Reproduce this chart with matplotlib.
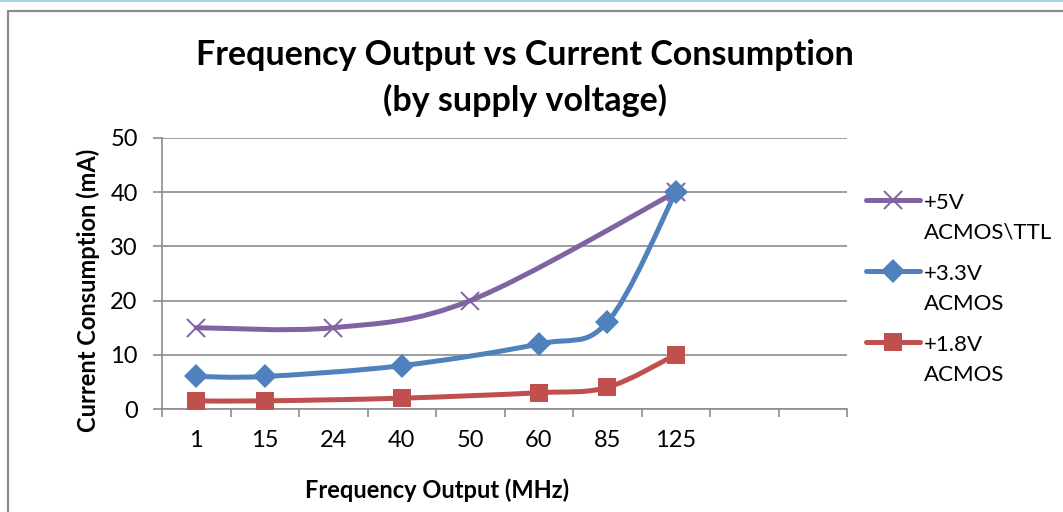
import matplotlib
matplotlib.use("Agg")
import matplotlib.pyplot as plt
import numpy as np
from matplotlib.path import Path
from matplotlib.patches import PathPatch, Rectangle
from matplotlib.lines import Line2D

plt.rcParams['font.family'] = ['Lato', 'DejaVu Sans']

categories = ["1", "15", "24", "40", "50", "60", "85", "125", "", ""]
v5 = [15, None, 15, None, 20, None, None, 40, None, None]
v33 = [6, 6, None, 8, None, 12, 16, 40, None, None]
v18 = [1.5, 1.5, None, 2, None, 3, 4, 10, None, None]
series_names = ["+5V\nACMOS\\TTL", "+3.3V\nACMOS", "+1.8V\nACMOS"]
yticks = [0, 10, 20, 30, 40, 50]

colors = ["#8064A2", "#4F81BD", "#C0504D"]
markers = ["x", "D", "s"]
msizes = [13, 12, 13]

W, H = 1063, 512
fig = plt.figure(figsize=(W / 100, H / 100), dpi=100)
fig.patch.set_facecolor("white")

# slide background band and chart border
fig.add_artist(Rectangle((0, 1 - 2 / H), 1, 2 / H, transform=fig.transFigure,
                         facecolor="#A5D5E2", edgecolor="none"))
fig.add_artist(Line2D([8 / W, 8 / W, 1], [0, 1 - 11 / H, 1 - 11 / H],
                      transform=fig.transFigure, color="#8C8C8C", lw=1.6))

ax = fig.add_axes([162 / W, 1 - 409 / H, (847 - 162) / W, (409 - 138) / H])
ax.set_xlim(-0.5, len(categories) - 0.5)
ax.set_ylim(0, 50)


def smooth_path(xs, ys):
    pts = np.array([(x, y) for x, y in zip(xs, ys) if y is not None], float)
    verts = [tuple(pts[0])]
    codes = [Path.MOVETO]
    n = len(pts)
    for i in range(n - 1):
        p0 = pts[max(i - 1, 0)]
        p1 = pts[i]
        p2 = pts[i + 1]
        p3 = pts[min(i + 2, n - 1)]
        c1 = p1 + (p2 - p0) / 6.0
        c2 = p2 - (p3 - p1) / 6.0
        verts += [tuple(c1), tuple(c2), tuple(p2)]
        codes += [Path.CURVE4] * 3
    return Path(verts, codes), pts


xs = np.arange(len(categories))
for vals, c, m, ms, z in zip([v5, v33, v18], colors, markers, msizes, [3, 4, 5]):
    path, pts = smooth_path(xs, vals)
    ax.add_patch(PathPatch(path, facecolor="none", edgecolor=c, lw=3.6,
                           capstyle="round", joinstyle="round", zorder=z))
    ax.plot(pts[:, 0], pts[:, 1], ls="none", marker=m, ms=ms,
            mew=1.4 if m == "x" else 0, color=c, zorder=z + 0.5, clip_on=False)

# axes styling
ax.set_yticks(yticks)
ax.set_yticklabels([str(t) for t in yticks], fontsize=17)
ax.yaxis.grid(True, color="#8C8C8C", lw=1.2)
ax.set_axisbelow(True)
ax.set_xticks(xs)
ax.set_xticklabels(categories, fontsize=17)
ax.set_xticks(np.arange(-0.5, len(categories)), minor=True)
ax.tick_params(axis="x", which="major", length=0, pad=15)
ax.tick_params(axis="x", which="minor", length=6, width=1.2, color="#8C8C8C")
ax.tick_params(axis="y", length=6.5, width=1.2, color="#8C8C8C", pad=11)
for s in ["top", "right"]:
    ax.spines[s].set_visible(False)
for s in ["left", "bottom"]:
    ax.spines[s].set_color("#8C8C8C")
    ax.spines[s].set_linewidth(1.2)

# titles and labels
fig.text(525 / W, 1 - 55 / H, "Frequency Output vs Current Consumption",
         ha="center", va="center", fontsize=24.5, fontweight="bold")
fig.text(525 / W, 1 - 100 / H, "(by supply voltage)",
         ha="center", va="center", fontsize=24.5, fontweight="bold")
fig.text(88 / W, 1 - 290 / H, "Current Consumption (mA)", rotation=90,
         ha="center", va="center", fontsize=17, fontweight="bold")
fig.text(437 / W, 1 - 490 / H, "Frequency Output (MHz)",
         ha="center", va="center", fontsize=17, fontweight="bold")

# legend (manual)
leg_y = [200, 271, 342]
for name, c, m, ms, ly in zip(series_names, colors, markers, msizes, leg_y):
    yf = 1 - ly / H
    fig.add_artist(Line2D([866 / W, 920 / W], [yf, yf], transform=fig.transFigure,
                          color=c, lw=3.6, solid_capstyle="round"))
    fig.add_artist(Line2D([893 / W], [yf], transform=fig.transFigure,
                          ls="none", marker=m, ms=ms, color=c,
                          mew=1.4 if m == "x" else 0))
    fig.text(924 / W, yf + 7 / H, name, ha="left", va="top", fontsize=16,
             linespacing=1.62)

fig.savefig("out.png", dpi=100, facecolor="white")
